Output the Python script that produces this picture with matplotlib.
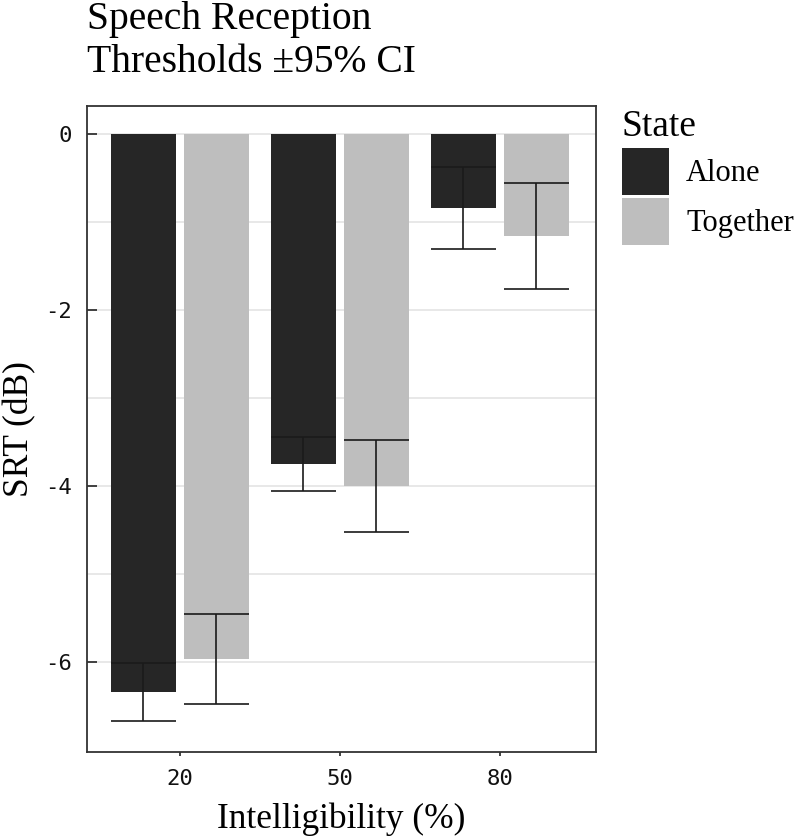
import matplotlib
matplotlib.use("Agg")
import matplotlib.pyplot as plt
from matplotlib.patches import Patch
import numpy as np

# values
intelligibility = ["20", "50", "80"]
states = ["Alone", "Together"]
alone_mean = [-6.34, -3.75, -0.84]
alone_ci = [0.33, 0.31, 0.47]
together_mean = [-5.96, -4.00, -1.16]
together_ci = [0.51, 0.52, 0.60]

colors = {"Alone": "#262626", "Together": "#bebebe"}
serif = ["Liberation Serif", "DejaVu Serif"]
mono = ["DejaVu Sans Mono"]

plt.rcParams["axes.unicode_minus"] = False

fig = plt.figure(figsize=(8, 8.4), dpi=100)
ax = fig.add_axes([87 / 800, 1 - 752 / 840, (596 - 87) / 800, (752 - 106) / 840])

x = np.arange(len(intelligibility))
dodge = 0.228
width = 0.405

series = [
    ("Alone", alone_mean, alone_ci, -dodge),
    ("Together", together_mean, together_ci, dodge),
]
for name, mean, ci, off in series:
    xs = x + off
    ax.bar(xs, mean, width=width, color=colors[name], zorder=2)
    lo = np.array(mean) - np.array(ci)
    hi = np.array(mean) + np.array(ci)
    ax.vlines(xs, lo, hi, color="#1a1a1a", lw=1.2, zorder=3)
    ax.hlines(lo, xs - width / 2, xs + width / 2, color="#1a1a1a", lw=1.2, zorder=3)
    ax.hlines(hi, xs - width / 2, xs + width / 2, color="#1a1a1a", lw=1.2, zorder=3)

ax.set_xlim(-0.58, 2.6)
ax.set_ylim(-7.02, 0.32)
ax.set_xticks(x)
ax.set_xticklabels(intelligibility)
ax.set_yticks([-6, -4, -2, 0])
ax.set_yticks([-5, -3, -1], minor=True)

ax.set_axisbelow(True)
ax.yaxis.grid(True, which="both", color="#e6e6e6", lw=1.3, zorder=0)
ax.xaxis.grid(False)

for sp in ax.spines.values():
    sp.set_color("#333333")
    sp.set_linewidth(1.3)

ax.tick_params(axis="y", which="major", direction="in", length=7, width=1.3,
               color="#333333", pad=11)
ax.tick_params(axis="y", which="minor", length=0)
ax.tick_params(axis="x", direction="out", length=3, width=1.3,
               color="#333333", pad=9)
for lab in ax.get_xticklabels() + ax.get_yticklabels():
    lab.set_fontfamily(mono)
    lab.set_fontsize(16)
    lab.set_color("#111111")

ax.set_xlabel("Intelligibility (%)", fontsize=25.5, family=serif, labelpad=10)
ax.set_ylabel("SRT (dB)", fontsize=25.5, family=serif, labelpad=6)

fig.text(87 / 800, 1 - 1 / 840, "Speech Reception\nThresholds \u00b195% CI",
         ha="left", va="top", fontsize=28.5, family=serif, linespacing=1.22)

handles = [Patch(facecolor=colors[s], edgecolor="none") for s in states]
leg = ax.legend(handles, states, loc="upper left",
                bbox_to_anchor=(622 / 800, 1 - 110 / 840),
                bbox_transform=fig.transFigure, frameon=False,
                prop={"family": serif, "size": 22},
                title="State", title_fontproperties={"family": serif, "size": 27},
                alignment="left", handlelength=1.55, handleheight=2.0,
                labelspacing=0.1, handletextpad=0.55, borderpad=0, borderaxespad=0)

fig.savefig("out.png", dpi=100)
